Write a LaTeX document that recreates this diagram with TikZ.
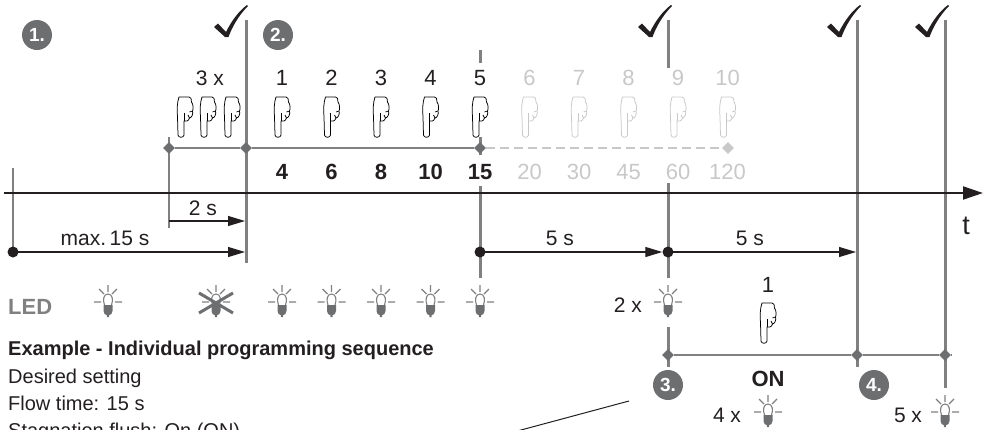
\documentclass[tikz,border=0pt]{standalone}
\usepackage{fontspec}
\setmainfont{Liberation Sans}
\usetikzlibrary{arrows.meta,shapes.geometric}
\definecolor{ink}{HTML}{231F20}
\definecolor{gline}{HTML}{808080}
\definecolor{gdark}{HTML}{6D6E70}
\definecolor{glight}{HTML}{C8C8C8}
\tikzset{
  vline/.style={draw=gline, line width=3pt},
  thinv/.style={draw=gline, line width=2pt},
  level/.style={draw=gline, line width=2pt},
  dia/.style={diamond, fill=gdark, inner sep=0pt, minimum size=12pt},
  tarrow/.style={draw=ink, line width=1.2pt, -{Triangle[length=17pt,width=10pt]}},
  dot/.style={circle, fill=ink, inner sep=0pt, minimum size=11pt},
  stepcircle/.style={circle, fill=gdark, text=white, font=\bfseries\fontsize{19}{19}\selectfont, inner sep=0pt, minimum size=30pt},
  lbl/.style={font=\fontsize{21}{21}\selectfont, text=ink, inner sep=0pt},
  num/.style={font=\fontsize{22}{22}\selectfont, inner sep=0pt},
  bnum/.style={font=\bfseries\fontsize{22}{22}\selectfont, inner sep=0pt},
  txt/.style={font=\fontsize{20}{20}\selectfont, text=ink, inner sep=0pt, anchor=base west},
  hand/.pic={
    \draw[line width=0.75pt, fill=white, line join=round]
      (-6,-20) -- (4,-20) .. controls (6,-20) and (6.5,-18) .. (6.5,-15)
      .. controls (8.5,-12) and (8.5,-8) .. (7.5,-6)
      .. controls (8.5,-3) and (6.5,1) .. (4.5,1)
      .. controls (3.5,4) and (1,5) .. (-1,4)
      -- (-1,18) .. controls (-1,21) and (-7,21) .. (-7,18)
      -- (-7.5,0) .. controls (-8,-8) and (-8,-14) .. (-6,-20) -- cycle;
    \draw[line width=0.75pt] (-1,4) -- (-1,-4);
    \draw[line width=0.75pt] (7.5,-6) .. controls (6.5,-5) and (5.5,-5) .. (4.5,-5);
    \draw[line width=0.75pt] (4.5,1) .. controls (3.5,0) and (3,-1) .. (3,-2);
  },
  led/.pic={
    \draw[gline, line width=1.1pt] (0,-15) -- (0,-8) (-4,-6) -- (-9,-11) (4,-6) -- (9,-11) (-7,2) -- (-14,2) (7,2) -- (14,2);
    \draw[gline, line width=1.1pt] (-3.5,5) .. controls (-5.5,0) and (-4.5,-6) .. (0,-6) .. controls (4.5,-6) and (5.5,0) .. (3.5,5);
    \fill[gdark] (-4.5,5) -- (4.5,5) -- (4.5,11) .. controls (4.5,14) and (2.5,15) .. (1.2,15) -- (1.2,17) -- (-1.2,17) -- (-1.2,15) .. controls (-2.5,15) and (-4.5,14) .. (-4.5,11) -- cycle;
  },
  chk/.pic={
    \fill[ink] (-13,-10) -- (-9,-13.5) -- (-1,-5) .. controls (5,-17) and (12,-26) .. (20,-32) -- (21,-31) .. controls (12,-22) and (5,-10) .. (1.5,0) -- (-2,0) -- cycle;
  }
}
\begin{document}
\begin{tikzpicture}[x=1pt,y=-1pt]
\useasboundingbox (0,0) rectangle (986,429);

% vertical lines
\coordinate (a0) at (13,168); \coordinate (a1) at (13,252);
\coordinate (b0) at (169,137); \coordinate (b1) at (169,228);
\coordinate (c0) at (246,20); \coordinate (c1) at (246,263);
\coordinate (d0) at (480,50); \coordinate (d1) at (480,63);
\coordinate (d2) at (480,137); \coordinate (d3) at (480,155);
\coordinate (d4) at (480,186); \coordinate (d5) at (480,278);
\coordinate (e0) at (668,20); \coordinate (e1) at (668,68);
\coordinate (e2) at (668,183); \coordinate (e3) at (668,278);
\coordinate (e4) at (668,327); \coordinate (e5) at (668,367);
\coordinate (f0) at (857,20); \coordinate (f1) at (857,367);
\coordinate (g0) at (945,20); \coordinate (g1) at (945,388);
\draw[thinv] (a0) -- (a1);
\draw[thinv] (b0) -- (b1);
\draw[vline] (c0) -- (c1);
\draw[vline] (d0) -- (d1) (d2) -- (d3) (d4) -- (d5);
\draw[vline] (e0) -- (e1) (e2) -- (e3) (e4) -- (e5);
\draw[vline] (f0) -- (f1);
\draw[vline] (g0) -- (g1);

% time axis
\coordinate (axL) at (4,193); \coordinate (axR) at (983,193);
\draw[draw=ink, line width=2pt, -{Triangle[length=20pt,width=13pt]}] (axL) -- (axR);
\node[font=\fontsize{27}{27}\selectfont, text=ink, inner sep=0pt] (tlab) at (966,226) {t};

% upper level line
\node[dia] (h0) at (169,148) {};
\node[dia] (h1) at (246,148) {};
\node[dia] (h2) at (480,148) {};
\node[dia, fill=glight] (h3) at (728,148) {};
\draw[level] (h0) -- (h1);
\draw[level] (h1) -- (h2);
\draw[draw=glight, line width=2pt, dash pattern=on 9pt off 5pt] (h2) -- (h3);

% lower level line
\node[dia] (k0) at (668,355) {};
\node[dia] (k1) at (857,355) {};
\node[dia] (k2) at (945,355) {};
\coordinate (k3) at (951,355);
\draw[level] (k0) -- (k1);
\draw[level] (k1) -- (k2);
\draw[level] (k2) -- (k3);

% checkmarks
\pic at (227,37) {chk};
\pic at (651,37) {chk};
\pic at (840,37) {chk};
\pic at (928,37) {chk};

% step circles
\node[stepcircle] (s1) at (37,35) {1.};
\node[stepcircle] (s2) at (278,35) {2.};
\node[stepcircle] (s3) at (668,385) {3.};
\node[stepcircle] (s4) at (874,385) {4.};

% presses
\node[lbl] (x3) at (210,78) {3 x};
\pic at (185,117) {hand};
\pic at (208,117) {hand};
\pic at (232,117) {hand};
\foreach \i/\xx in {1/282,2/331.5,3/381,4/430.5,5/480}{
  \node[num, text=ink] (n\i) at (\xx,78) {\i};
  \pic at (\xx,117) {hand};
}
\foreach \i/\xx in {6/529.5,7/579,8/628.5,9/678,10/727.5}{
  \node[num, text=glight] (n\i) at (\xx,78) {\i};
  \pic[color=glight] at (\xx,117) {hand};
}
\foreach \v/\xx in {4/282,6/331.5,8/381,10/430.5,15/480}{
  \node[bnum, text=ink] (v\v) at (\xx,172) {\v};
}
\foreach \v/\xx in {20/529.5,30/579,45/628.5,60/678,120/727.5}{
  \node[num, text=glight] (v\v) at (\xx,172) {\v};
}

% timing arrows
\coordinate (r0) at (169,221); \coordinate (r1) at (245,221);
\draw[tarrow] (r0) -- (r1);
\node[lbl] (l2s) at (203,208) {2 s};
\node[dot] (m0) at (13,252) {};
\coordinate (m1) at (245,252);
\draw[tarrow] (m0.center) -- (m1);
\node[lbl] (lmax) at (105,238) {max.\,15 s};
\node[dot] (p0) at (480,252) {};
\node[dot] (p1) at (668,252) {};
\coordinate (p2) at (856,252);
\draw[tarrow] (p0.center) -- (p1.west);
\draw[tarrow] (p1.center) -- (p2);
\node[lbl] (l5a) at (560,238) {5 s};
\node[lbl] (l5b) at (750,238) {5 s};

% LEDs
\node[font=\bfseries\fontsize{22}{22}\selectfont, text=gline, inner sep=0pt, anchor=west] (led) at (8,307) {LED};
\foreach \xx in {108,282,331.5,381,430.5,480,668}{
  \pic at (\xx,300) {led};
}
\pic at (216,300) {led};
\draw[gdark, line width=3pt] (199,293) -- (233,313) (199,313) -- (233,293);
\node[lbl] (x2) at (628,305) {2 x};

% step 3 / 4
\node[num, text=ink] (n1b) at (768,285) {1};
\pic at (768,323) {hand};
\node[font=\bfseries\fontsize{22}{22}\selectfont, text=ink, inner sep=0pt] (on) at (768,379) {ON};
\node[lbl] (x4) at (727,415) {4 x};
\pic at (768,410) {led};
\node[lbl] (x5) at (908,415) {5 x};
\pic at (945,410) {led};

% pointer line
\coordinate (q0) at (629,401); \coordinate (q1) at (480,441);
\draw[ink, line width=1pt] (q0) -- (q1);

% text block
\node[txt, font=\bfseries\fontsize{20}{20}\selectfont] (tb1) at (8,355) {Example - Individual programming sequence};
\node[txt] (tb2) at (8,383) {Desired setting};
\node[txt] (tb3) at (8,410) {Flow time: 15 s};
\node[txt] (tb4) at (8,437) {Stagnation flush: On (ON)};
\end{tikzpicture}
\end{document}
